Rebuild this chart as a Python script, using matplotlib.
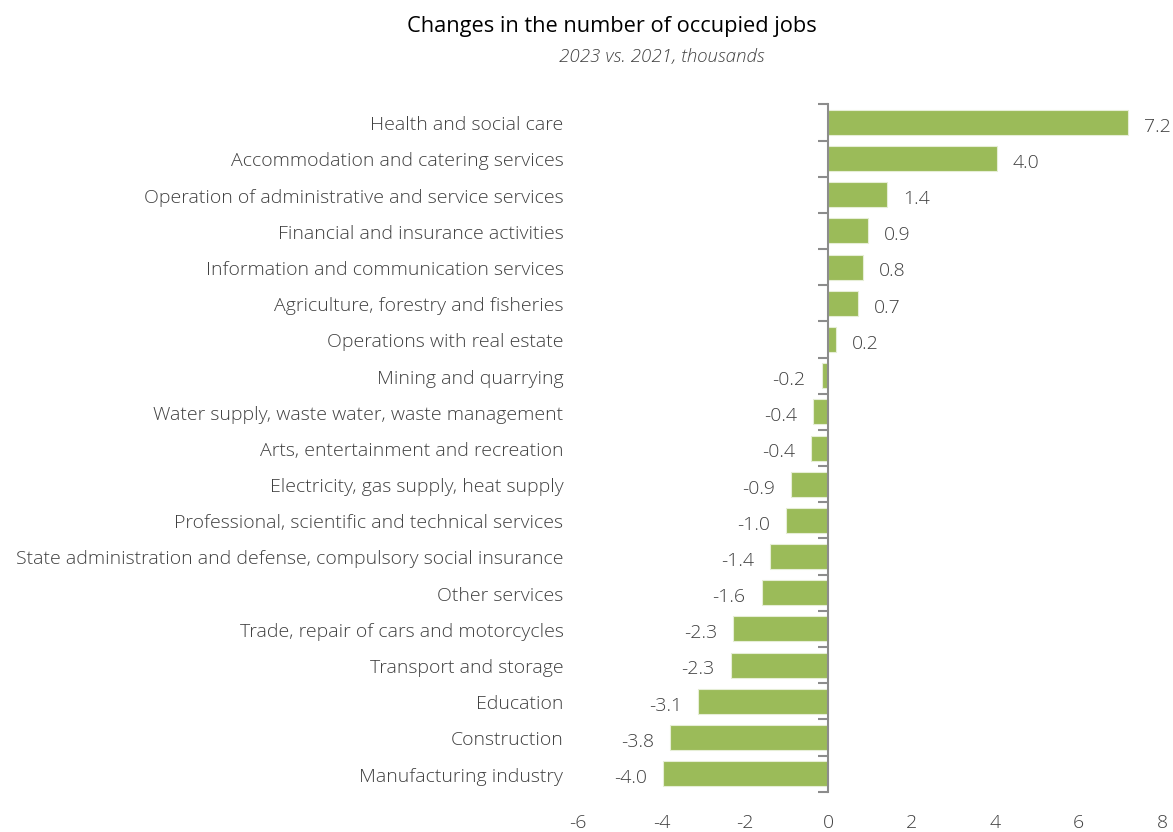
import matplotlib
matplotlib.use("Agg")
import matplotlib.pyplot as plt
from matplotlib import transforms

plt.rcParams['font.family'] = ['Open Sans', 'DejaVu Sans']

categories = [
    "Health and social care",
    "Accommodation and catering services",
    "Operation of administrative and service services",
    "Financial and insurance activities",
    "Information and communication services",
    "Agriculture, forestry and fisheries",
    "Operations with real estate",
    "Mining and quarrying",
    "Water supply, waste water, waste management",
    "Arts, entertainment and recreation",
    "Electricity, gas supply, heat supply",
    "Professional, scientific and technical services",
    "State administration and defense, compulsory social insurance",
    "Other services",
    "Trade, repair of cars and motorcycles",
    "Transport and storage",
    "Education",
    "Construction",
    "Manufacturing industry",
]
changes = [7.19, 4.04, 1.40, 0.94, 0.83, 0.71, 0.19, -0.16, -0.36, -0.41,
           -0.89, -1.01, -1.40, -1.60, -2.28, -2.34, -3.13, -3.80, -3.96]
x_ticks = [-6, -4, -2, 0, 2, 4, 6, 8]

title = "Changes in the number of occupied jobs"
subtitle = "2023 vs. 2021, thousands"

bar_color = "#9BBB59"
text_color = "#404040"
axis_color = "#8C8C8C"

fig = plt.figure(figsize=(11.73, 8.32), dpi=100)
ax = fig.add_axes([0.4928, 0.0484, 0.4978, 0.8262])

n = len(categories)
ypos = list(range(n))
ax.barh(ypos, changes, height=0.69, color=bar_color, edgecolor="#E6EED6",
        linewidth=0.8, zorder=2)

ax.set_xlim(-6, 8)
ax.set_ylim(n - 0.5, -0.5)

# vertical zero axis with tick marks between categories
for side in ["top", "right", "bottom"]:
    ax.spines[side].set_visible(False)
ax.spines["left"].set_position(("data", 0))
ax.spines["left"].set_color(axis_color)
ax.spines["left"].set_linewidth(1.5)
ax.spines["left"].set_zorder(3)
ax.set_yticks([])
ax.set_yticks([i - 0.5 for i in range(n + 1)], minor=True)
ax.tick_params(axis="y", which="minor", length=7, width=1.5, color=axis_color,
               direction="out", labelleft=False)

ax.set_xticks(x_ticks)
ax.set_xticklabels([str(t) for t in x_ticks], fontweight="light")
ax.tick_params(axis="x", length=0, pad=16, labelsize=14, labelcolor=text_color)

# category labels to the left of the plot area
trans = transforms.blended_transform_factory(ax.transAxes, ax.transData)
for i, name in enumerate(categories):
    ax.text(-0.025, i + 0.08, name, transform=trans, ha="right", va="center",
            fontsize=14, color=text_color, fontweight="light")

# value labels beside each bar
offset = 16 / 41.7
for i, v in enumerate(changes):
    ha = "left" if v >= 0 else "right"
    xpos = v + offset if v >= 0 else v - offset
    ax.text(xpos, i + 0.12, f"{v:.1f}", ha=ha, va="center",
            fontsize=14, color=text_color, fontweight="light")

fig.text(0.522, 0.968, title, ha="center", va="center", fontsize=15.7, color="black")
fig.text(0.564, 0.932, subtitle, ha="center", va="center", fontsize=13.5,
         color=text_color, style="italic", fontweight="light")

fig.savefig("out.png", dpi=100)
